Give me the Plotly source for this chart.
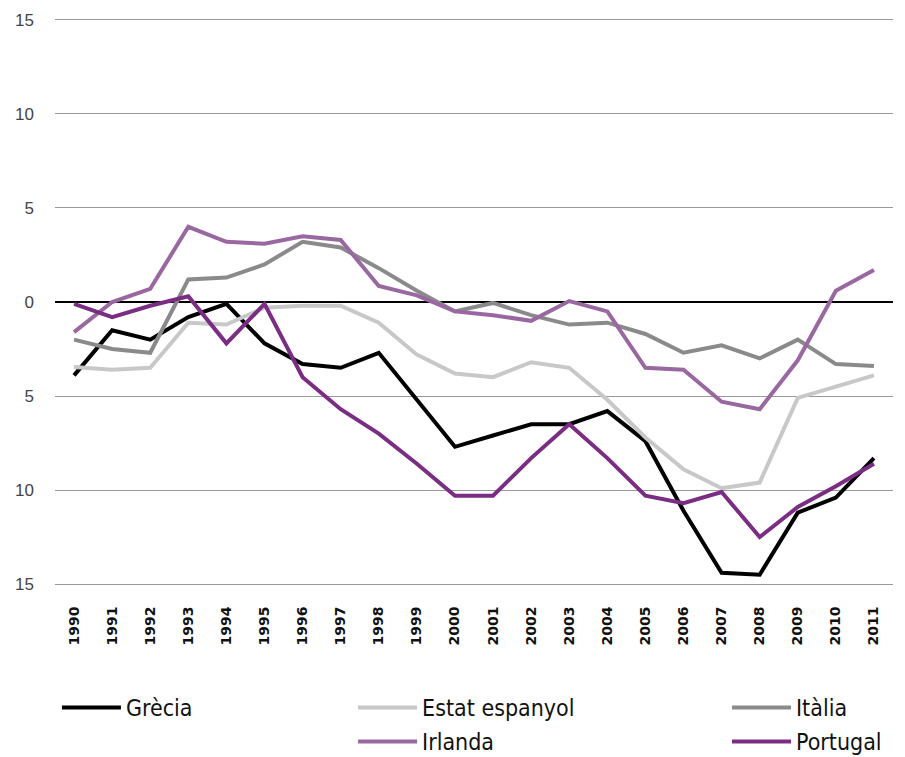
import plotly.graph_objects as go

years = list(range(1990, 2012))

grecia = [-3.9, -1.5, -2.0, -0.8, -0.1, -2.2, -3.3, -3.5, -2.7, -5.2, -7.7, -7.1, -6.5, -6.5,
          -5.8, -7.4, -11.1, -14.4, -14.5, -11.2, -10.4, -8.3]
espanya = [-3.45, -3.6, -3.5, -1.1, -1.2, -0.3, -0.2, -0.2, -1.1, -2.8, -3.8, -4.0, -3.2, -3.5,
           -5.2, -7.2, -8.9, -9.9, -9.6, -5.1, -4.5, -3.9]
italia = [-2.0, -2.5, -2.7, 1.2, 1.3, 2.0, 3.2, 2.9, 1.8, 0.6, -0.5, -0.05, -0.7, -1.2,
          -1.1, -1.7, -2.7, -2.3, -3.0, -2.0, -3.3, -3.4]
irlanda = [-1.6, 0.0, 0.7, 4.0, 3.2, 3.1, 3.5, 3.3, 0.85, 0.35, -0.5, -0.7, -1.0, 0.05,
           -0.5, -3.5, -3.6, -5.3, -5.7, -3.1, 0.6, 1.7]
portugal = [-0.1, -0.8, -0.2, 0.3, -2.2, -0.1, -4.0, -5.7, -7.0, -8.6, -10.3, -10.3, -8.3, -6.5,
            -8.3, -10.3, -10.7, -10.1, -12.5, -10.9, -9.8, -8.6]

ytickvals = [15, 10, 5, 0, -5, -10, -15]
yticktext = ["15", "10", "5", "0", "5", "10", "15"]

series = [
    ("Grècia", grecia, "#000000", "legend"),
    ("Estat espanyol", espanya, "#c8c8c8", "legend2"),
    ("Itàlia", italia, "#8a8a8a", "legend3"),
    ("Irlanda", irlanda, "#9a68a0", "legend4"),
    ("Portugal", portugal, "#7a2d82", "legend5"),
]

fig = go.Figure()
for name, vals, color, lg in series:
    fig.add_trace(go.Scatter(x=years, y=vals, name=name, mode="lines",
                             line=dict(color=color, width=4), legend=lg))

legend_common = dict(orientation="v", yanchor="top", xanchor="left",
                     font=dict(family="DejaVu Sans Condensed, DejaVu Sans, sans-serif", size=23, color="#111"),
                     bgcolor="rgba(0,0,0,0)", tracegroupgap=0, itemwidth=59)

row1 = -0.1761
row2 = -0.2360
col1, col2, col3 = 0.0023, 0.3557, 0.8019

fig.update_layout(
    width=897, height=749,
    margin=dict(l=47, r=12, t=10, b=171, autoexpand=False),
    plot_bgcolor="white", paper_bgcolor="white",
    showlegend=True,
    legend=dict(x=col1, y=row1, **legend_common),
    legend2=dict(x=col2, y=row1, **legend_common),
    legend3=dict(x=col3, y=row1, **legend_common),
    legend4=dict(x=col2, y=row2, **legend_common),
    legend5=dict(x=col3, y=row2, **legend_common),
    xaxis=dict(range=[1989.5, 2011.5], tickvals=years, ticktext=[str(y) for y in years],
               tickangle=-90, showgrid=False, zeroline=False, showline=False,
               ticks="outside", ticklen=14, tickcolor="rgba(0,0,0,0)",
               tickfont=dict(family="DejaVu Sans", size=14, color="#111", weight="bold")),
    yaxis=dict(range=[-15.1, 15.1], tickvals=ytickvals, ticktext=yticktext,
               showgrid=True, gridcolor="#999999", gridwidth=1,
               zeroline=True, zerolinecolor="#000000", zerolinewidth=2,
               showline=False, ticklabelstandoff=20,
               tickfont=dict(family="Liberation Sans", size=17, color="#444")),
)

fig.write_html("out.html")
